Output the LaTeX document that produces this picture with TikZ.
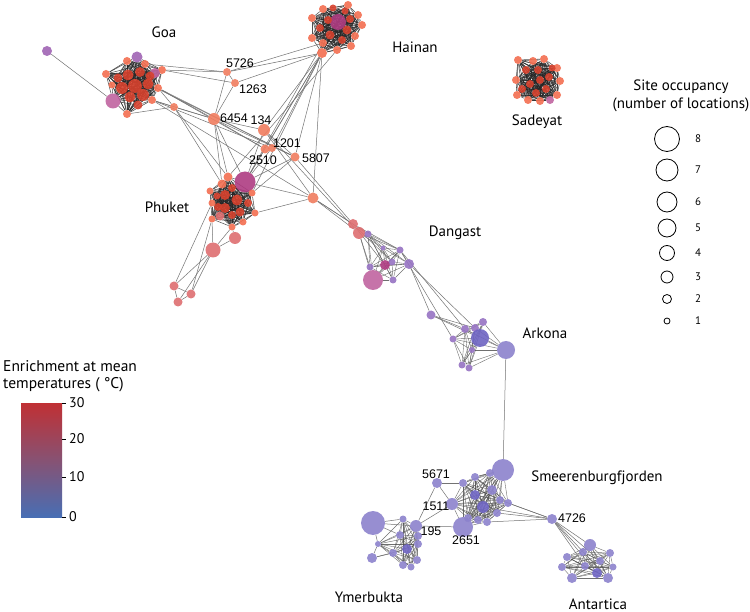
\documentclass[tikz,border=0pt]{standalone}
\usepackage{fontspec}
\newfontfamily\lab{PT Sans}
\newfontfamily\numf{Liberation Sans}
\pgfdeclarelayer{back}
\pgfdeclarelayer{bg}
\pgfsetlayers{back,bg,main}
\definecolor{cOr}{RGB}{243,110,80}
\definecolor{cRd}{RGB}{215,65,45}
\definecolor{cSal}{RGB}{240,125,95}
\definecolor{cRose}{RGB}{222,110,112}
\definecolor{cMag}{RGB}{175,60,130}
\definecolor{cPink}{RGB}{192,100,160}
\definecolor{cPurp}{RGB}{160,100,180}
\definecolor{cPur}{RGB}{150,115,195}
\definecolor{cLav}{RGB}{140,130,205}
\definecolor{cBlu}{RGB}{110,100,195}
\definecolor{cbR}{RGB}{192,48,52}
\definecolor{cbM}{RGB}{135,82,115}
\definecolor{cbB}{RGB}{72,110,180}
\tikzset{
  v/.style 2 args={circle,inner sep=0pt,minimum size=#2pt,fill=#1,fill opacity=0.9},
  dk/.style={draw=black!85,line width=0.55pt,opacity=0.8},
  md/.style={draw=black!70,line width=0.4pt,opacity=0.8},
  ed/.style={draw=black!55,line width=0.5pt},
  lbl/.style={font=\lab\fontsize{15}{17}\selectfont,inner sep=0pt},
  nlb/.style={font=\numf\fontsize{12.5}{14}\selectfont,inner sep=0pt},
  lgc/.style={circle,draw=black,line width=0.8pt,inner sep=0pt,minimum size=#1pt},
}
\newcommand\mkclique[3]{%
  \foreach \i in {1,...,#2}{%
    \pgfmathtruncatemacro\nj{\i+1}%
    \ifnum\nj>#2\relax\else
      \foreach \j in {\nj,...,#2}{\draw[#3] (#1\i) -- (#1\j);}%
    \fi}}
\begin{document}
\begin{tikzpicture}[x=1pt,y=-1pt]
\begin{pgfonlayer}{back}
\fill[white] (0,0) rectangle (750,612);
\end{pgfonlayer}
\useasboundingbox (0,0) rectangle (750,612);
% ---------- nodes ----------
\foreach \n/\x/\y/\c/\d in {
 g1/106/74/cOr/8, g2/127/61/cOr/8, g3/137/57/cPurp/11, g4/162/70/cOr/8, g5/155/73/cPink/10,
 g6/158/88/cOr/8, g7/113/101/cPink/15, g8/127/114/cOr/8, g9/152/100/cOr/8, g10/112/85/cOr/7,
 g11/128/75/cRd/11, g12/140/72/cRd/10, g13/122/88/cRd/12, g14/135/86/cRd/14, g15/148/84/cRd/11,
 g16/130/97/cRd/11, g17/143/95/cRd/12, g18/118/78/cRd/9, g19/150/76/cRd/9, g20/138/105/cRd/9,
 g21/145/64/cOr/8, gx/47/51/cPurp/10,
 h1/348/5/cOr/8, h2/358/15/cOr/8, h3/362/25/cOr/8, h4/355/36/cOr/8, h5/351/46/cOr/8,
 h6/337/50/cOr/8, h7/323/43/cOr/8, h8/312/38/cOr/8, h9/312/18/cOr/8, h10/323/9/cOr/8,
 h11/338/22/cMag/16, h12/322/53/cOr/10, h13/328/20/cRd/8, h14/347/30/cRd/9, h15/330/35/cRd/9,
 h16/342/40/cRd/8, h17/350/19/cRd/8, h18/320/28/cRd/8, h19/333/8/cRd/7, h20/345/11/cRd/7,
 s1/518/60/cOr/8, s2/533/61/cOr/8, s3/544/59/cOr/8, s4/557/68/cOr/8, s5/560/81/cOr/8,
 s6/557/95/cOr/8, s7/550/100/cPink/8, s8/540/101/cOr/8, s9/528/100/cOr/8, s10/517/95/cOr/8,
 s11/516/80/cOr/8, s12/526/70/cRd/8, s13/538/70/cRd/8, s14/549/77/cRd/8, s15/530/84/cRd/8,
 s16/546/89/cRd/8, s17/536/93/cRd/8, s18/522/89/cRd/8, s19/552/68/cRd/7, s20/540/80/cRd/8,
 p1/245/182/cMag/21, p2/228/177/cOr/9, p3/222/184/cOr/9, p4/210/191/cOr/7, p5/212/203/cOr/7,
 p6/212/219/cOr/7, p7/220/216/cRose/9, p8/232/227/cOr/7, p9/243/222/cOr/7, p10/255/213/cOr/7,
 p11/252/193/cOr/7, p12/225/195/cRd/10, p13/237/200/cRd/11, p14/225/208/cRd/10, p15/240/212/cRd/9,
 p16/232/215/cRd/8, p17/218/207/cRd/8, p18/248/203/cRd/8, p19/232/188/cRd/8, p20/217/196/cRd/7,
 t1/235/238/cRose/12, t2/213/250/cRose/15, t3/174/286/cRose/9, t4/191/294/cRose/9, t5/178/302/cRose/9,
 n5726/227/72/cSal/8, n1263/235/83/cSal/8, nA/174/107/cSal/8, n6454/214/119/cSal/12,
 n134/264/130/cSal/12, nq/265/149/cSal/9, n1201/272/148/cSal/8, n5807/295/157/cSal/9, nB/313/198/cSal/11,
 dr1/353/224/cRose/10, dr2/359/233/cRose/12,
 d1/368/234/cPur/7, d2/400/250/cPur/7, d3/409/264/cPur/10, d4/392/262/cPur/7, d5/385/265/cMag/10,
 d6/370/267/cPur/7, d7/373/280/cPink/20, d8/393/280/cPur/7, d9/383/248/cPur/5,
 m1/431/315/cPur/9,
 a1/465/329/cPur/8, a2/483/322/cPur/8, a3/475/328/cPur/8, a4/480/338/cBlu/18, a5/453/339/cPur/7,
 a6/506/350/cLav/18, a7/462/365/cPur/7, a8/469/368/cPur/7, a9/472/350/cPur/6,
 sm1/475/477/cLav/8, sm2/490/473/cLav/8, sm3/463/483/cLav/8, sm4/452/504/cLav/12, sm5/463/527/cLav/20,
 sm6/478/520/cLav/8, sm7/487/522/cLav/8, sm8/497/513/cLav/8, sm9/508/503/cLav/8, sm10/483/507/cBlu/12,
 sm11/468/518/cLav/8, sm12/475/495/cBlu/10, sm13/492/490/cLav/10, sm14/500/500/cLav/8, sm15/503/470/cLav/22,
 n5671/437/483/cLav/10, n4726/552/519/cLav/10,
 an1/590/545/cLav/12, an2/610/553/cLav/8, an3/613/567/cLav/7, an4/608/578/cLav/10, an5/597/573/cBlu/10,
 an6/572/578/cLav/10, an7/562/567/cLav/8, an8/567/557/cLav/8, an9/583/552/cLav/8, an10/585/566/cLav/8,
 an11/600/561/cLav/8,
 y1/403/519/cLav/7, y2/416/526/cLav/12, y3/418/536/cLav/8, y4/418/544/cLav/8, y5/417/560/cLav/8,
 y6/411/567/cLav/7, y7/403/565/cLav/8, y8/407/549/cBlu/10, y9/393/553/cLav/8, y10/378/544/cLav/6,
 y11/400/535/cLav/8, yb/373/523/cLav/24, yc/372/558/cLav/10}
 {\node[v={\c}{\d}] (\n) at (\x,\y) {};}
% ---------- edges ----------
\begin{pgfonlayer}{bg}
\mkclique{g}{21}{dk}
\mkclique{h}{20}{dk}
\mkclique{s}{20}{dk}
\mkclique{p}{20}{dk}
\mkclique{d}{9}{md}
\mkclique{a}{9}{md}
\mkclique{sm}{15}{md}
\mkclique{an}{11}{md}
\mkclique{y}{11}{md}
\foreach \u/\w in {gx/g7, g4/n5726, g21/n5726, g4/n1263, g6/nA, g9/nA, g8/nA, g6/n6454, g9/n6454,
  g6/n5807, g9/n1201, g6/nq, g9/nB, g15/n5807, nA/p3, nA/p2, nA/n6454,
  n5726/h12, n1263/h12, h7/n5726, n5726/n1263, n5726/n6454, n1263/n6454,
  n6454/p2, n6454/p1, n6454/n134, n6454/n5807, n6454/nq, n6454/p3,
  h12/n134, h12/nq, h12/n1201, h12/p1, h12/p11, h12/n5807, h12/nB, h7/p1, h6/p2,
  p1/n134, p1/n1201, p1/n5807, p1/nB, p11/n5807, p10/nB, n134/n5807, nq/n1201, nq/p1, n134/nB,
  p8/t1, p6/t2, p8/t2, t1/t2, t2/t3, t2/t4, t2/t5, p5/t3, p6/t4, t3/t4, t3/t5, t4/t5,
  nB/dr1, nB/dr2, nB/d1, n5807/dr1, n134/dr2,
  dr1/dr2, dr2/d1, dr2/d7, dr1/d5, dr2/d9, dr2/d2, dr1/d2, dr2/d6, dr1/d4,
  d3/m1, d2/a1, d3/a3, d2/a5, m1/a1, m1/a3, m1/a4,
  a6/sm15,
  n5671/sm4, n5671/y2, sm4/y2, y2/sm5, sm3/n5671,
  sm9/n4726, sm14/n4726, sm7/n4726, sm8/n4726, sm10/n4726,
  n4726/an1, n4726/an5, n4726/an4, n4726/an10, n4726/an11,
  yb/y1, yb/y2, yb/y11, yb/y10, yc/y9, yc/y10, yc/y8}
 {\draw[ed] (\u) -- (\w);}
\end{pgfonlayer}
% ---------- cluster labels ----------
\node[lbl] (lgoa) at (164,32) {Goa};
\node[lbl] (lhai) at (415,47) {Hainan};
\node[lbl] (lsad) at (537,122) {Sadeyat};
\node[lbl] (lphu) at (167,207) {Phuket};
\node[lbl] (ldan) at (455,233) {Dangast};
\node[lbl] (lark) at (545,333) {Arkona};
\node[lbl] (lsme) at (597,478) {Smeerenburgfjorden};
\node[lbl] (lyme) at (369,597) {Ymerbukta};
\node[lbl] (lant) at (598,604) {Antartica};
% ---------- id labels ----------
\node[nlb] (l5726) at (240,63) {5726};
\node[nlb] (l1263) at (253,89) {1263};
\node[nlb] (l6454) at (234,118) {6454};
\node[nlb] (l134) at (261,120) {134};
\node[nlb] (l1201) at (287,143) {1201};
\node[nlb] (l2510) at (263,160) {2510};
\node[nlb] (l5807) at (316,158) {5807};
\node[nlb] (l5671) at (436,474) {5671};
\node[nlb] (l1511) at (436,506) {1511};
\node[nlb] (l195) at (431,531) {195};
\node[nlb] (l2651) at (466,540) {2651};
\node[nlb] (l4726) at (572,518) {4726};
% ---------- site occupancy legend ----------
\node[font=\lab\fontsize{15}{17}\selectfont,inner sep=0pt] (st1) at (681,87) {Site occupancy};
\node[font=\lab\fontsize{15}{17}\selectfont,inner sep=0pt] (st2) at (681,105) {(number of locations)};
\foreach \k/\yy/\dd in {8/139/25, 7/170/22, 6/202/20, 5/228/18, 4/253/15, 3/277/12, 2/299/9, 1/321/6}{
  \node[lgc=\dd] (oc\k) at (667,\yy) {};
  \node[font=\lab\fontsize{11}{13}\selectfont,inner sep=0pt] (ocl\k) at (698,\yy) {\k};
}
% ---------- colour bar ----------
\node[font=\lab\fontsize{15.5}{17}\selectfont,inner sep=0pt,anchor=west] (ct1) at (3,366) {Enrichment at mean};
\node[font=\lab\fontsize{15.5}{17}\selectfont,inner sep=0pt,anchor=west] (ct2) at (3,385) {temperatures ( °C)};
\shade[top color=cbR, bottom color=cbB, middle color=cbM] (21,403) rectangle (62,517);
\foreach \t/\yy in {30/403, 20/439, 10/477, 0/517}{
  \draw[line width=1pt] (62,\yy) -- (66,\yy);
  \node[font=\lab\fontsize{14}{16}\selectfont,inner sep=0pt,anchor=west] (cb\t) at (69,\yy) {\t};
}
\end{tikzpicture}
\end{document}
